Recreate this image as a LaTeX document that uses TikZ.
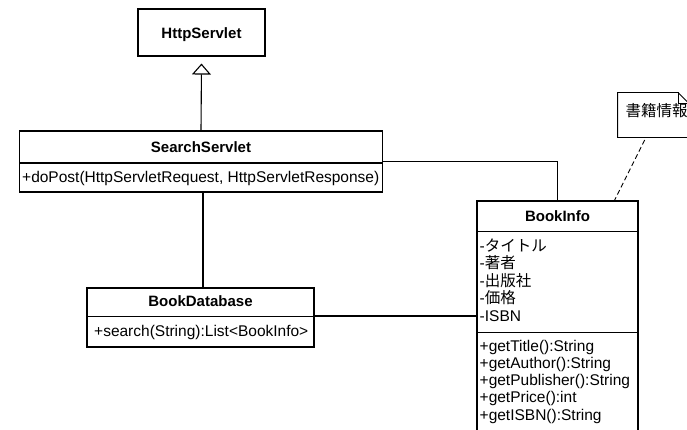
\documentclass[tikz,border=0pt]{standalone}
\usepackage{fontspec}
\setmainfont{Liberation Sans}
\newfontfamily\jpfont{Noto Sans CJK JP}
\usetikzlibrary{arrows.meta,shadows,calc}
\begin{document}
\begin{tikzpicture}[x=1pt,y=-1pt,
  every node/.style={font=\fontsize{15.5}{17.4}\selectfont},
  box/.style={draw, line width=1.1pt, fill=white, inner sep=0pt,
    drop shadow={shadow xshift=-1pt, shadow yshift=-1pt, fill=black, opacity=0.75}},
  txt/.style={inner sep=0pt, anchor=base west},
  clsname/.style={inner sep=0pt, anchor=base, font=\fontsize{15}{17.4}\selectfont\bfseries},
  link/.style={line width=1.1pt},
  notelink/.style={line width=0.9pt, dash pattern=on 5pt off 3pt},
  generalization/.style={link, -{Triangle[open, length=11pt, width=19pt]}}]

\useasboundingbox (0,0) rectangle (687,430);
\fill[white] (0,0) rectangle (687,430);
\clip (0,0) rectangle (687,430);

% HttpServlet
\node[box, minimum width=127pt, minimum height=47pt] (http) at (201.5,32.5) {};
\node[clsname] (httpname) at (201.5,38.5) {HttpServlet};

% SearchServlet
\node[box, minimum width=363pt, minimum height=32pt] (ss) at (201,147) {};
\node[clsname] (ssname) at (201,152.5) {SearchServlet};
\node[box, minimum width=363pt, minimum height=29pt] (ssops) at (201,177.5) {};
\node[txt] (ssop1) at (22,183) {+doPost(HttpServletRequest, HttpServletResponse)};

% BookDatabase
\node[box, minimum width=227pt, minimum height=28.5pt] (db) at (200.5,302.25) {};
\node[clsname] (dbname) at (200.5,306.5) {BookDatabase};
\node[box, minimum width=227pt, minimum height=30.5pt] (dbops) at (200.5,331.75) {};
\node[txt] (dbop1) at (94,336) {+search(String):List<BookInfo>};

% BookInfo
\node[box, minimum width=161pt, minimum height=31pt] (bi) at (557.5,216.5) {};
\node[clsname] (biname) at (557.5,221.5) {BookInfo};
\node[box, minimum width=161pt, minimum height=100.6pt] (biattr) at (557.5,282) {};
\node[box, minimum width=161pt, minimum height=115pt] (biops) at (557.5,390) {};
\foreach \t [count=\i from 0] in {{-\jpfont タイトル},{-\jpfont 著者},{-\jpfont 出版社},{-\jpfont 価格},{-ISBN}}
  \node[txt] (attr\i) at (479.5,{251.5+17.4*\i}) {\t};
\foreach \t [count=\i from 0] in {{+getTitle():String},{+getAuthor():String},{+getPublisher():String},{+getPrice():int},{+getISBN():String}}
  \node[txt] (op\i) at (479.5,{351+17.3*\i}) {\t};

% note with folded corner
\node[inner sep=0pt, minimum width=71pt, minimum height=44.6pt] (note) at (653.35,115) {};
\draw[line width=0.9pt, fill=white] (note.south west) -- (note.north west)
  -- ($(note.north east)+(-11,0)$) -- ($(note.north east)+(0,11)$)
  -- (note.south east) -- cycle;
\draw[line width=0.9pt] ($(note.north east)+(-11,0)$) -- ($(note.north east)+(-11,11)$)
  -- ($(note.north east)+(0,11)$);
\node[txt, font=\fontsize{15.5}{17.4}\selectfont\jpfont] (notetext) at (625.5,117) {書籍情報};

% connectors
\draw[generalization] (ss.north) -- ($(http.south)+(0,7)$);
\coordinate (ssdown) at ($(ssops.south)+(2,0)$);
\draw[link] (ssdown) -- (ssdown |- db.north);
\coordinate (ssright) at ($(ss.south east)+(0,-2)$);
\draw[link] (ssright) -| (bi.north);
\draw[link] (dbops.north east) -- (dbops.north east -| biattr.west);
\draw[notelink] ($(note.south west)+(27,2.5)$) -- ($(bi.north west)+(138,0)$);
\end{tikzpicture}
\end{document}
